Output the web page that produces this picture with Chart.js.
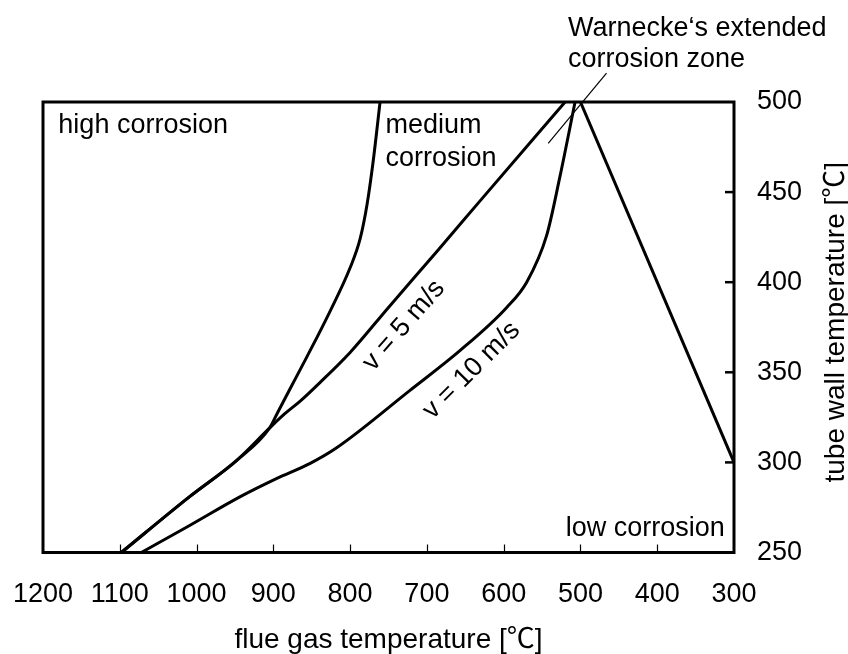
<!DOCTYPE html>
<html>
<head>
<meta charset="utf-8">
<script src="https://cdn.jsdelivr.net/npm/chart.js@4/dist/chart.umd.min.js"></script>
<style>
  html, body { margin: 0; padding: 0; background: #fff; }
  #wrap { width: 848px; height: 654px; }
</style>
</head>
<body>
<div id="wrap"><canvas id="chart" width="848" height="654"></canvas></div>
<script>
// Axis ticks
const gasTicks  = [1200, 1100, 1000, 900, 800, 700, 600, 500, 400, 300];
const wallTicks = [250, 300, 350, 400, 450, 500];

// Boundary between high and medium corrosion
const highMedGas  = [761, 770, 778, 787, 800, 826, 857, 878, 894, 905, 948, 1009, 1098];
const highMedWall = [500, 467, 443, 424, 408, 384, 358, 341, 328, 319, 301, 281, 250];

// Flue gas velocity v = 5 m/s
const v5Gas  = [520, 631, 685, 750, 800, 840, 865, 885, 905, 948, 1009, 1098];
const v5Wall = [500, 445, 418, 386, 361, 344, 334, 327, 319, 301, 281, 250];

// Flue gas velocity v = 10 m/s
const v10Gas  = [507, 527, 544, 570, 596, 657, 722, 818, 852, 896, 943, 1009, 1072];
const v10Wall = [500, 458, 426, 400, 386, 362, 340, 308, 299.5, 291, 281, 265, 250];

// Boundary between medium and low corrosion
const medLowGas  = [500, 300];
const medLowWall = [500, 300];

// Leader line to the Warnecke annotation
const leaderGas  = [466, 542];
const leaderWall = [516, 477];

const FONT = "'Liberation Sans', Arial, Helvetica, sans-serif";
const TITLE_FONT = "'Liberation Sans', Arial, 'Noto Sans CJK JP', sans-serif";
const FONT_SIZE = 27;
const TITLE_SIZE = 28;

const toPoints = (xs, ys) => xs.map((x, i) => ({ x: x, y: ys[i] }));
const curve = { borderColor: '#000', borderWidth: 3, pointRadius: 0, fill: false,
                cubicInterpolationMode: 'monotone' };

// Box frame and inward tick marks
const framePlugin = {
  id: 'frame',
  afterDatasetsDraw(chart) {
    const { ctx, chartArea: a, scales: { x, y } } = chart;
    ctx.save();
    ctx.strokeStyle = '#000';
    ctx.lineWidth = 1.2;
    gasTicks.slice(1, -1).forEach(v => {
      const px = Math.round(x.getPixelForValue(v)) + 0.5;
      ctx.beginPath(); ctx.moveTo(px, a.bottom); ctx.lineTo(px, a.bottom - 8); ctx.stroke();
    });
    ctx.lineWidth = 2.5;
    wallTicks.slice(1, -1).forEach(v => {
      const py = y.getPixelForValue(v);
      ctx.beginPath(); ctx.moveTo(a.right, py); ctx.lineTo(a.right - 9, py); ctx.stroke();
    });
    ctx.lineWidth = 3;
    ctx.strokeRect(a.left, a.top, a.right - a.left, a.bottom - a.top);
    ctx.restore();
  }
};

// Region labels, curve labels, axis titles and annotation
const textPlugin = {
  id: 'texts',
  afterDraw(chart) {
    const { ctx, chartArea: a, scales: { x, y } } = chart;
    ctx.save();
    ctx.fillStyle = '#000';
    ctx.font = FONT_SIZE + 'px ' + FONT;
    ctx.textBaseline = 'alphabetic';

    const at = (text, gas, wall, align, dy) => {
      ctx.textAlign = align;
      ctx.fillText(text, x.getPixelForValue(gas), y.getPixelForValue(wall) + (dy || 0));
    };
    at('high corrosion', 1180, 483, 'left');
    at('medium', 754, 483, 'left');
    at('corrosion', 754, 483, 'left', 33);
    at('low corrosion', 312, 259, 'right');

    const rotated = (text, gas, wall, deg) => {
      ctx.save();
      ctx.translate(x.getPixelForValue(gas), y.getPixelForValue(wall));
      ctx.rotate(deg * Math.PI / 180);
      ctx.textAlign = 'center';
      ctx.textBaseline = 'middle';
      ctx.fillText(text, 0, 0);
      ctx.restore();
    };
    rotated('v = 5 m/s', 730, 376, -49);
    rotated('v = 10 m/s', 642, 351, -45);

    // annotation above the plot
    ctx.textAlign = 'left';
    ctx.fillText('Warnecke\u2018s extended', 568, 36);
    ctx.fillText('corrosion zone', 568, 67);

    // axis titles
    ctx.font = TITLE_SIZE + 'px ' + TITLE_FONT;
    ctx.textAlign = 'center';
    ctx.fillText('flue gas temperature [\u2103]', (a.left + a.right) / 2, 648);

    ctx.save();
    ctx.translate(844, (a.top + a.bottom) / 2 - 5);
    ctx.rotate(-Math.PI / 2);
    ctx.textAlign = 'center';
    ctx.fillText('tube wall temperature [\u2103]', 0, 0);
    ctx.restore();

    ctx.restore();
  }
};

new Chart(document.getElementById('chart'), {
  type: 'line',
  data: {
    datasets: [
      { label: 'high / medium', data: toPoints(highMedGas, highMedWall), ...curve },
      { label: 'v = 5 m/s', data: toPoints(v5Gas, v5Wall), ...curve },
      { label: 'v = 10 m/s', data: toPoints(v10Gas, v10Wall), ...curve },
      { label: 'medium / low', data: toPoints(medLowGas, medLowWall), ...curve },
      { label: 'leader', data: toPoints(leaderGas, leaderWall), borderColor: '#000', borderWidth: 1.2,
        pointRadius: 0, tension: 0, fill: false, clip: false }
    ]
  },
  options: {
    responsive: false,
    animation: false,
    devicePixelRatio: 1,
    layout: { padding: { left: 43, top: 102, right: 0, bottom: 0 } },
    plugins: { legend: { display: false }, tooltip: { enabled: false } },
    scales: {
      x: {
        type: 'linear', position: 'bottom', reverse: true, min: 300, max: 1200,
        afterBuildTicks: s => { s.ticks = gasTicks.map(v => ({ value: v })); },
        afterFit: s => { s.height = 101.5; s.paddingLeft = 0; s.paddingRight = 0; },
        grid: { display: false, drawTicks: false },
        border: { display: false },
        ticks: { padding: 26, color: '#000', autoSkip: false, maxRotation: 0,
                 callback: v => String(v),
                 font: { family: FONT, size: FONT_SIZE } }
      },
      y: {
        type: 'linear', position: 'right', min: 250, max: 500,
        afterBuildTicks: s => { s.ticks = wallTicks.map(v => ({ value: v })); },
        afterFit: s => { s.width = 114; s.paddingTop = 0; s.paddingBottom = 0; },
        grid: { display: false, drawTicks: false },
        border: { display: false },
        ticks: { padding: 23, color: '#000', callback: v => String(v),
                 font: { family: FONT, size: FONT_SIZE } }
      }
    }
  },
  plugins: [framePlugin, textPlugin]
});
</script>
</body>
</html>
